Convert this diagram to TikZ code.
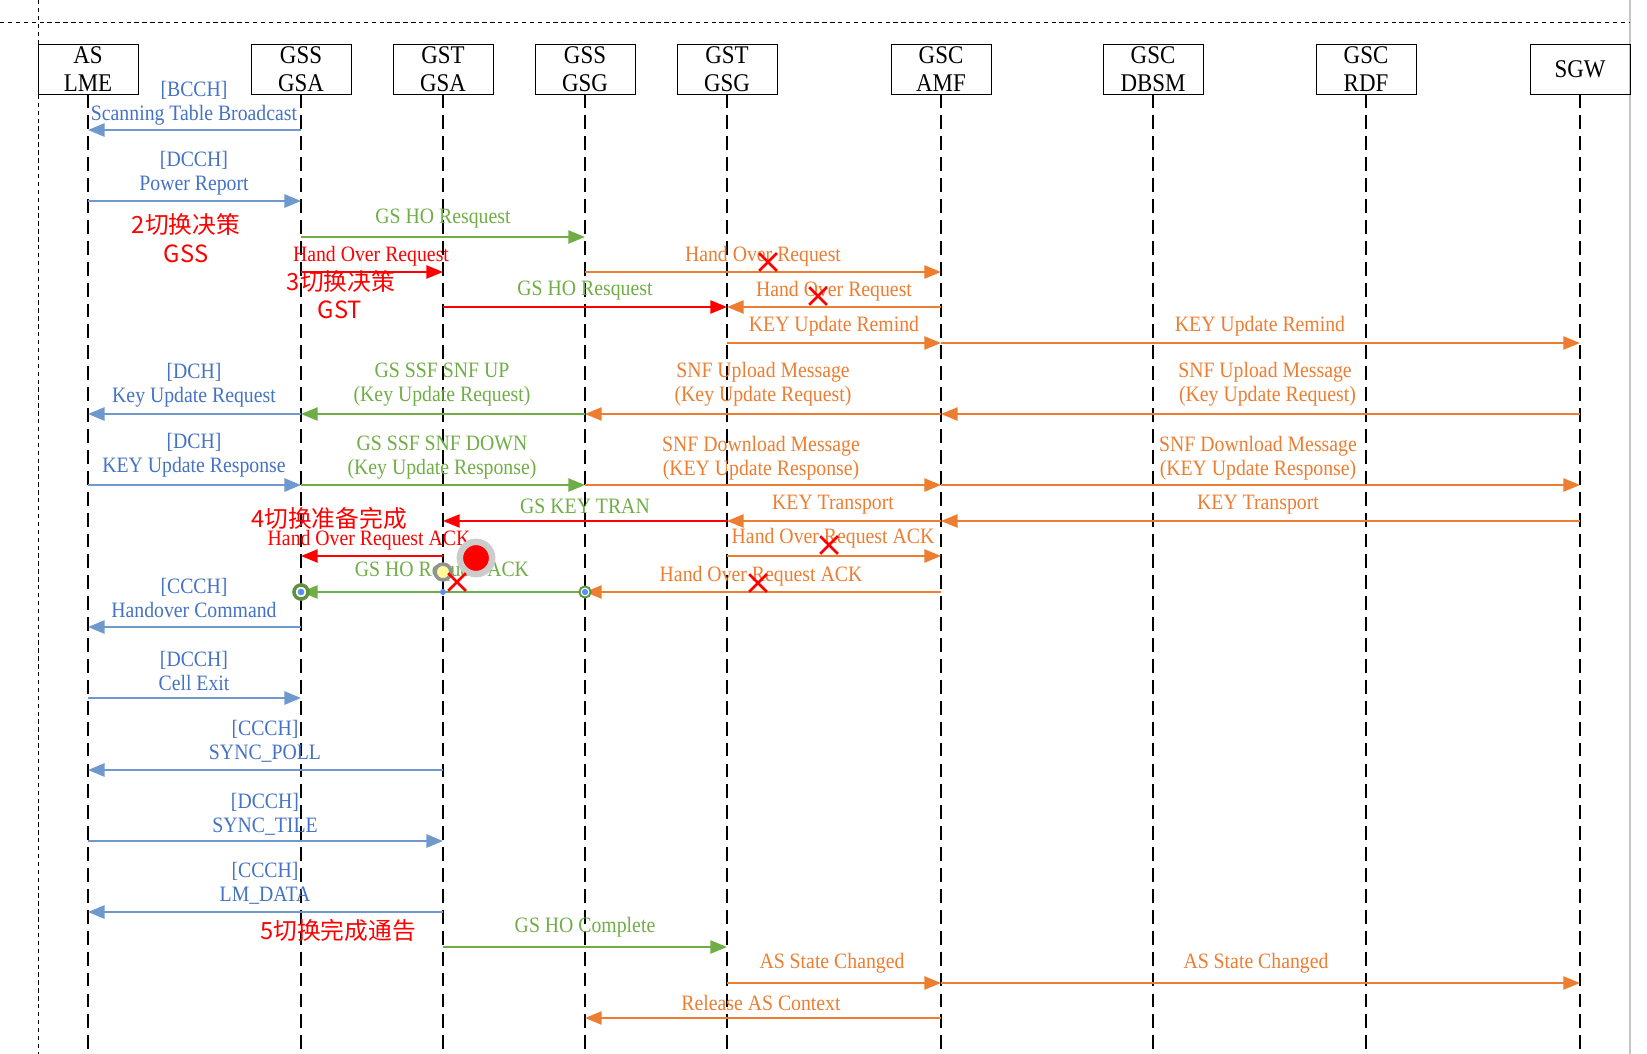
\documentclass[tikz,border=0pt]{standalone}
\usepackage{fontspec}
\setmainfont{Liberation Serif}[FakeStretch=0.9]
\newfontfamily\cjkfont{Noto Sans CJK SC}
\usetikzlibrary{arrows.meta,shapes.misc}
\definecolor{msgblue}{HTML}{6F98CC}
\definecolor{txtblue}{HTML}{4472C4}
\definecolor{msggreen}{HTML}{70AD47}
\definecolor{msgorange}{HTML}{ED7D31}
\definecolor{dotblue}{HTML}{5B8FF0}
\begin{document}
\begin{tikzpicture}[x=0.02cm,y=-0.02cm,
    box/.style={draw,line width=0.55pt,minimum width=2cm,minimum height=1cm,
      align=center,inner sep=0pt,font=\fontsize{14.5}{16}\selectfont},
    lifeline/.style={line width=1.1pt,dash pattern=on 7.9pt off 4pt},
    frameline/.style={line width=0.5pt,dash pattern=on 2.5pt off 2pt},
    msg/.style={line width=1.1pt,-{Triangle[length=9.5pt,width=7.5pt]}},
    bmsg/.style={msg,msgblue,line width=1.4pt},
    gmsg/.style={msg,msggreen},
    omsg/.style={msg,msgorange},
    rmsg/.style={msg,red},
    lbl/.style={align=center,inner sep=0pt,font=\fontsize{12.5}{13.6}\selectfont},
    note/.style={inner sep=0pt,red,font=\cjkfont\fontsize{13.5}{16}\selectfont},
    cross/.style={cross out,draw=red,line width=1.6pt,minimum size=8.5pt,inner sep=0pt}]
  \useasboundingbox (0,0) rectangle (1647,1054);
  \draw[gray!45,line width=0.9pt] (1630,0) -- (1630,1054);
  \draw[frameline] (0,22) -- (1630,22);
  \draw[frameline] (38,0) -- (38,1054);

  \node[box] (lme) at (88,69) {AS\\LME};
  \node[box] (gssgsa) at (301,69) {GSS\\GSA};
  \node[box] (gstgsa) at (443,69) {GST\\GSA};
  \node[box] (gssgsg) at (585,69) {GSS\\GSG};
  \node[box] (gstgsg) at (727,69) {GST\\GSG};
  \node[box] (amf) at (941,69) {GSC\\AMF};
  \node[box] (dbsm) at (1153,69) {GSC\\DBSM};
  \node[box] (rdf) at (1366,69) {GSC\\RDF};
  \node[box] (sgw) at (1580,69) {SGW};
  \foreach \n in {lme,gssgsa,gstgsa,gssgsg,gstgsg,amf,dbsm,rdf,sgw}
    \draw[lifeline] (\n.south) -- (\n.south |- 0,1054);

  \draw[bmsg] (gssgsa |- 0,130) -- (lme |- 0,130);
  \node[lbl,txtblue] (bcch) at (194,103) {[BCCH]\\Scanning Table Broadcast};
  \draw[bmsg] (lme |- 0,201) -- (gssgsa |- 0,201);
  \node[lbl,txtblue] (power) at (194,173) {[DCCH]\\Power Report};
  \node[note] (n2) at (186,224) {2切换决策};
  \node[note] (n2b) at (186,254) {GSS};

  \draw[gmsg] (gssgsa |- 0,237) -- (gssgsg |- 0,237);
  \node[lbl,msggreen] (horeq1) at (443,219) {GS HO Resquest};
  \draw[rmsg] (gssgsa |- 0,272) -- (gstgsa |- 0,272);
  \node[lbl,red] (hor1) at (371,256) {Hand Over Request};
  \draw[omsg] (gssgsg |- 0,272) -- (amf |- 0,272);
  \node[lbl,msgorange] (hor2) at (763,256) {Hand Over Request};
  \node[cross] (x1) at (768,262) {};
  \node[note] (n3) at (341,281) {3切换决策};
  \node[note] (n3b) at (340,310) {GST};

  \draw[rmsg] (gstgsa |- 0,307) -- (gstgsg |- 0,307);
  \node[lbl,msggreen] (horeq2) at (585,291) {GS HO Resquest};
  \draw[omsg] (amf |- 0,307) -- (gstgsg |- 0,307);
  \node[lbl,msgorange] (hor3) at (834,291) {Hand Over Request};
  \node[cross] (x2) at (818,296) {};

  \draw[omsg] (gstgsg |- 0,343) -- (amf |- 0,343);
  \draw[omsg] (amf |- 0,343) -- (sgw |- 0,343);
  \node[lbl,msgorange] (remind1) at (834,326) {KEY Update Remind};
  \node[lbl,msgorange] (remind2) at (1260,326) {KEY Update Remind};

  \draw[omsg] (sgw |- 0,414) -- (amf |- 0,414);
  \draw[omsg] (amf |- 0,414) -- (gssgsg |- 0,414);
  \draw[gmsg] (gssgsg |- 0,414) -- (gssgsa |- 0,414);
  \draw[bmsg] (gssgsa |- 0,414) -- (lme |- 0,414);
  \node[lbl,txtblue] (keyreq) at (194,385) {[DCH]\\Key Update Request};
  \node[lbl,msggreen] (snfup) at (442,385) {GS SSF SNF UP\\(Key Update Request)};
  \node[lbl,msgorange] (upload1) at (763,384) {SNF Upload Message\\(Key Update Request)};
  \node[lbl,msgorange] (upload2) at (1265,384) {SNF Upload Message\\\ (Key Update Request)};

  \draw[bmsg] (lme |- 0,485) -- (gssgsa |- 0,485);
  \draw[gmsg] (gssgsa |- 0,485) -- (gssgsg |- 0,485);
  \draw[omsg] (gssgsg |- 0,485) -- (amf |- 0,485);
  \draw[omsg] (amf |- 0,485) -- (sgw |- 0,485);
  \node[lbl,txtblue] (keyrsp) at (194,455) {[DCH]\\KEY Update Response};
  \node[lbl,msggreen] (snfdown) at (442,458) {GS SSF SNF DOWN\\(Key Update Response)};
  \node[lbl,msgorange] (download1) at (761,458) {SNF Download Message\\(KEY Update Response)};
  \node[lbl,msgorange] (download2) at (1258,458) {SNF Download Message\\(KEY Update Response)};

  \draw[rmsg] (gstgsg |- 0,521) -- (gstgsa |- 0,521);
  \node[lbl,msggreen] (keytran) at (585,506) {GS KEY TRAN};
  \draw[omsg] (amf |- 0,521) -- (gstgsg |- 0,521);
  \node[lbl,msgorange] (transport1) at (833,505) {KEY Transport};
  \draw[omsg] (sgw |- 0,521) -- (amf |- 0,521);
  \node[lbl,msgorange] (transport2) at (1258,505) {KEY Transport};
  \node[note] (n4) at (329,518) {4切换准备完成};

  \draw[rmsg] (gstgsa |- 0,556) -- (gssgsa |- 0,556);
  \node[lbl,red] (hora1) at (369,540) {Hand Over Request ACK};
  \draw[omsg] (gstgsg |- 0,556) -- (amf |- 0,556);
  \node[lbl,msgorange] (hora2) at (833,538) {Hand Over Request ACK};
  \node[cross] (x3) at (829,545) {};

  \draw[gmsg] (gssgsg |- 0,592) -- (gssgsa |- 0,592);
  \node[lbl,msggreen] (hoack) at (442,572) {GS HO Request ACK};
  \draw[omsg] (amf |- 0,592) -- (gssgsg |- 0,592);
  \node[lbl,msgorange] (hora3) at (761,576) {Hand Over Request ACK};
  \node[cross] (x4) at (758,583) {};
  \node[circle,fill=red,draw=gray!40,line width=3.7pt,minimum size=18.4pt,inner sep=0pt] (bigdot) at (476,558) {};
  \node[circle,fill=yellow!40,draw=gray!85,line width=2pt,minimum size=9pt,inner sep=0pt] (ydot) at (443,572) {};
  \node[cross] (x5) at (457,582) {};
  \node[circle,fill=dotblue,minimum size=3.4pt,inner sep=0pt] (bdot) at (443,592) {};
  \node[circle,fill=white,draw=msggreen!85!black,line width=2pt,minimum size=8pt,inner sep=0pt] (gring1) at (301,592) {};
  \node[circle,fill=dotblue,minimum size=3.8pt,inner sep=0pt] (gdot1) at (301,592) {};
  \node[circle,fill=white,draw=msggreen!85!black,line width=1.1pt,minimum size=6.4pt,inner sep=0pt] (gring2) at (585,592) {};
  \node[circle,fill=dotblue,minimum size=3.6pt,inner sep=0pt] (gdot2) at (585,592) {};

  \draw[bmsg] (gssgsa |- 0,627) -- (lme |- 0,627);
  \node[lbl,txtblue] (hocmd) at (194,598) {[CCCH]\\Handover Command};
  \draw[bmsg] (lme |- 0,698) -- (gssgsa |- 0,698);
  \node[lbl,txtblue] (exit) at (194,671) {[DCCH]\\Cell Exit};
  \draw[bmsg] (gstgsa |- 0,770) -- (lme |- 0,770);
  \node[lbl,txtblue] (poll) at (265,741) {[CCCH]\\SYNC\_POLL};
  \draw[bmsg] (lme |- 0,841) -- (gstgsa |- 0,841);
  \node[lbl,txtblue] (tile) at (265,814) {[DCCH]\\SYNC\_TILE};
  \draw[bmsg] (gstgsa |- 0,912) -- (lme |- 0,912);
  \node[lbl,txtblue] (lmdata) at (265,883) {[CCCH]\\LM\_DATA};
  \node[note] (n5) at (338,930) {5切换完成通告};

  \draw[gmsg] (gstgsa |- 0,947) -- (gstgsg |- 0,947);
  \node[lbl,msggreen] (complete) at (585,927) {GS HO Complete};
  \draw[omsg] (gstgsg |- 0,983) -- (amf |- 0,983);
  \draw[omsg] (amf |- 0,983) -- (sgw |- 0,983);
  \node[lbl,msgorange] (state1) at (832,963) {AS State Changed};
  \node[lbl,msgorange] (state2) at (1256,963) {AS State Changed};
  \draw[omsg] (amf |- 0,1018) -- (gssgsg |- 0,1018);
  \node[lbl,msgorange] (release) at (761,1003) {Release AS Context};
\end{tikzpicture}
\end{document}
